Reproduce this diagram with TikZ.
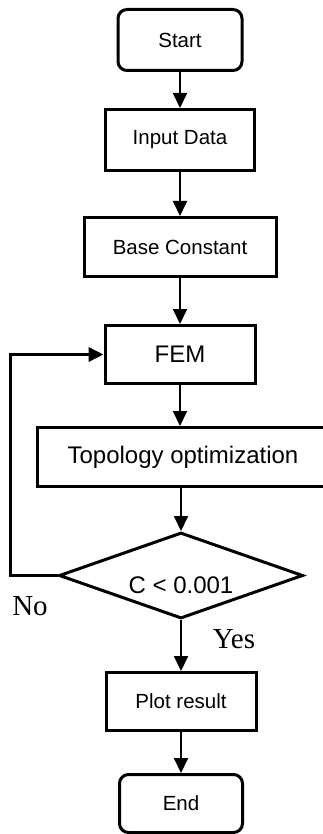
\documentclass[tikz,border=0pt]{standalone}
\usepackage{fontspec}
\setmainfont{Liberation Sans}
\newfontfamily\labelfont{Liberation Serif}
\usetikzlibrary{arrows.meta,positioning,shapes.geometric}
\tikzset{
>={Triangle[width=14pt,length=15pt]},
	termbox/.style={
		rectangle,
		rounded corners=9pt,
		fill=white,
		draw=black, line width=3pt,
		minimum height=58pt,
		font=\fontsize{20.5}{24}\selectfont,
		text centered},
	procbox/.style={
		rectangle,
		sharp corners,
		fill=white,
		draw=black, line width=3pt,
		minimum height=58pt,
		font=\fontsize{20.5}{24}\selectfont,
		text centered},
	bigbox/.style={
		procbox,
		font=\fontsize{24}{28}\selectfont},
	decbox/.style={
		diamond,
		aspect=2.8,
		draw=black, line width=3pt,
		minimum width=244pt,
		minimum height=86pt,
		inner sep=0pt,
		text height=35pt, text depth=0pt,
		font=\fontsize{24}{28}\selectfont},
	lbl/.style={
		font=\labelfont\fontsize{29}{32}\selectfont},
	flow/.style={->, line width=2pt},
	loopline/.style={->, line width=3.5pt, rounded corners=0pt}
}
\begin{document}
\begin{tikzpicture}
[node distance=40pt, align=center]
\useasboundingbox (0,0) rectangle (323pt,-834pt);
\node[termbox, minimum width=124pt, minimum height=61pt] (start) at (180pt,-40pt) {Start};
\node[procbox, minimum width=149pt, minimum height=61pt, below=36pt of start] (input) {Input Data};
\node[procbox, minimum width=192pt, minimum height=59pt, below=44pt of input] (base) {Base Constant};
\node[bigbox, minimum width=150pt, below=46pt of base] (fem) {FEM};
\node[bigbox, minimum width=292pt, minimum height=59pt, below=41pt of fem, xshift=3pt] (topo) {Topology optimization};
\node[decbox, below=43pt of topo, xshift=-2pt] (check) {C < 0.001};
\node[procbox, minimum width=150pt, below=51pt of check] (plot) {Plot result};
\node[termbox, minimum width=123pt, below=41pt of plot] (end) {End};
\node[lbl] (no) at (30pt,-606pt) {No};
\node[lbl] (yes) at (234pt,-639pt) {Yes};
\draw[flow] (start) -- (input);
\draw[flow] (input) -- (base);
\draw[flow] (base) -- (fem);
\draw[flow] (fem) -- (fem |- topo.north);
\draw[flow] (check.north |- topo.south) -- (check);
\draw[flow] (check) -- (plot);
\draw[flow] (plot) -- (end);
\draw[loopline] (check.west) -- ++(-47pt,0) |- (fem.west);
\end{tikzpicture}
\end{document}
